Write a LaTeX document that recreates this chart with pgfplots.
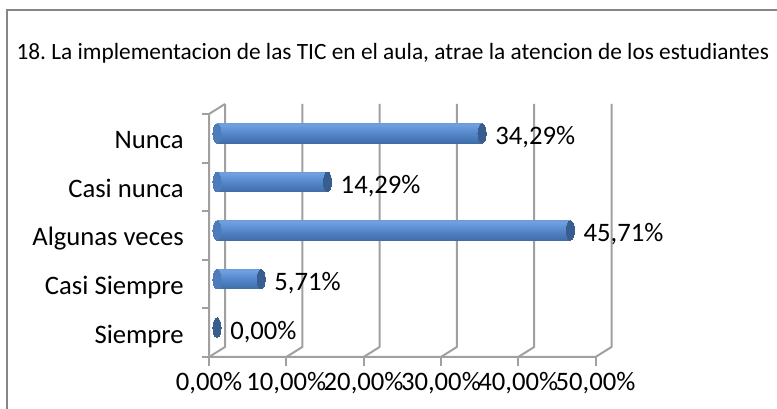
\documentclass[border=0pt]{standalone}
\usepackage{pgfplots}
\pgfplotsset{compat=1.18}
\usepackage{fontspec}
\setmainfont{Carlito}
\frenchspacing
\definecolor{gridc}{RGB}{160,160,160}
\definecolor{framec}{RGB}{134,134,134}
\definecolor{capc}{RGB}{56,94,144}
\definecolor{lcapc}{RGB}{78,124,186}
\definecolor{cA}{RGB}{44,80,128}
\definecolor{cB}{RGB}{62,106,166}
\definecolor{cC}{RGB}{84,134,202}
\definecolor{cD}{RGB}{112,160,224}
\definecolor{cE}{RGB}{98,146,212}
\definecolor{cF}{RGB}{78,122,186}
\pgfdeclareverticalshading{cyl}{100bp}{color(0bp)=(cA); color(22bp)=(cB); color(50bp)=(cC); color(72bp)=(cD); color(88bp)=(cE); color(100bp)=(cF)}
\newcommand\fs{\fontsize{20pt}{22pt}\selectfont}
\tikzset{fr/.style={xshift=-6pt,yshift=-3.75pt}, bk/.style={xshift=6pt,yshift=3.75pt}}
\pgfplotsset{base/.style={scale only axis, width=289.875pt, height=182.25pt, at={(162.75pt,42.75pt)}, anchor=south west, xmin=0, xmax=50, ymin=-0.5, ymax=4.5, clip=false},
  cylbar/.style={xbar, bar shift=0pt, bar width=14.6pt, draw=none, shading=cyl}}
\begin{document}
\begin{tikzpicture}
\path[use as bounding box] (0,0) rectangle (582.75pt,306.75pt);
\draw[framec, line width=1.5pt] (5.25pt,-5pt) -- (5.25pt,299.25pt) -- (590pt,299.25pt);
\node[anchor=base west, inner sep=0pt, font=\fontsize{17.5pt}{20pt}\selectfont] at (12.2pt,261.75pt) {18. La implementacion de las TIC en el aula, atrae la atencion de los estudiantes};
\begin{axis}[base, hide axis]
\pgfplotsinvokeforeach{0,10,20,30,40,50}{
  \draw[gridc, line width=1.5pt, line join=round] ([fr]axis cs:#1,-0.5) -- ([bk]axis cs:#1,-0.5) -- ([bk]axis cs:#1,4.5);
  \draw[gridc, line width=1.5pt] ([fr]axis cs:#1,-0.5) -- ++(0pt,-7pt);
}
\pgfplotsinvokeforeach{-0.5,0.5,1.5,2.5,3.5,4.5}{
  \draw[gridc, line width=1.5pt] ([fr]axis cs:0,#1) -- ++(-5.5pt,0pt);
}
\draw[gridc, line width=1.5pt, line join=round] ([fr]axis cs:50,-0.5) -- ([fr]axis cs:0,-0.5) -- ([fr]axis cs:0,4.5) -- ([bk]axis cs:0,4.5);
\end{axis}
\begin{axis}[base,
  axis line style={draw=none}, major tick length=0pt,
  xtick={0,10,20,30,40,50},
  xticklabels={{0,00\%},{10,00\%},{20,00\%},{30,00\%},{40,00\%},{50,00\%}},
  ytick={0,1,2,3,4},
  yticklabels={Siempre,{Casi Siempre},{Algunas veces},{Casi nunca\hspace{4.5pt}},Nunca},
  tick label style={font=\fs},
  xticklabel style={anchor=base, inner sep=0pt, xshift=-6pt, yshift=-29pt},
  yticklabel style={anchor=base east, inner sep=0pt, xshift=-24.75pt, yshift=-11.5pt},
]
\addplot[only marks, mark=*, mark size=7.3pt, mark options={xscale=0.42, fill=lcapc, draw=lcapc, line width=0pt}] coordinates {(0,1) (0,2) (0,3) (0,4)};
\addplot[cylbar] coordinates {(5.71,1)};
\addplot[cylbar] coordinates {(45.71,2)};
\addplot[cylbar] coordinates {(14.29,3)};
\addplot[cylbar] coordinates {(34.29,4)};
\addplot[only marks, mark=*, mark size=7.3pt, mark options={xscale=0.42, fill=capc, draw=capc, line width=0pt}] coordinates {(0,0) (5.71,1) (45.71,2) (14.29,3) (34.29,4)};
\addplot[draw=none, mark=none, nodes near coords, point meta=explicit symbolic,
  nodes near coords style={font=\fs, anchor=base west, inner sep=0pt, xshift=9.75pt, yshift=-8.6pt, text=black}]
  coordinates {(0,0) [0,00\%] (5.71,1) [5,71\%] (45.71,2) [45,71\%] (14.29,3) [14,29\%] (34.29,4) [34,29\%]};
\end{axis}
\end{tikzpicture}
\end{document}
